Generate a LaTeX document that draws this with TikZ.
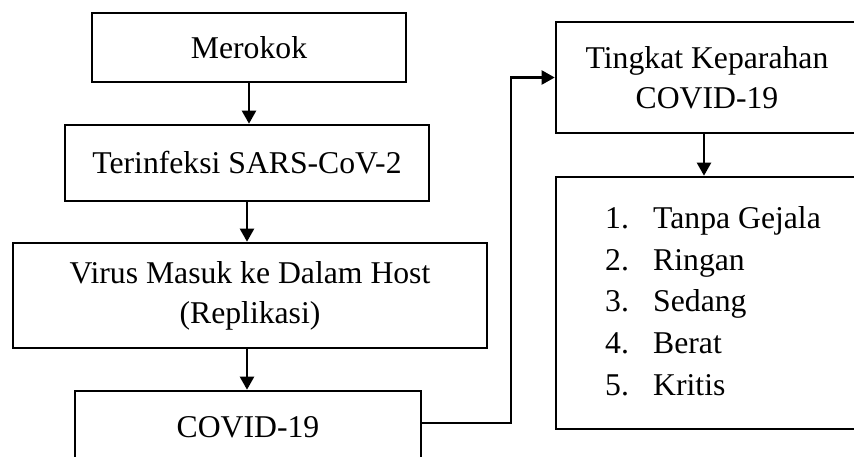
\documentclass[tikz,border=0pt]{standalone}
\usepackage{fontspec}
\setmainfont{Liberation Serif}
\usetikzlibrary{arrows.meta}
\begin{document}
\begin{tikzpicture}[x=1pt,y=-1pt,
  box/.style={draw,line width=2.6pt,inner sep=0pt,align=center,font=\fontsize{31.7}{40}\selectfont},
  arr/.style={line width=2.2pt,-{Triangle[length=13pt,width=14pt]}}]
\useasboundingbox (0,0) rectangle (854,457);
\clip (0,0) rectangle (854,457);
\node[box,minimum width=314,minimum height=69] (m) at (249,47.5) {Merokok};
\node[box,minimum width=364,minimum height=76] (t) at (247,163) {Terinfeksi SARS-CoV-2};
\node[box,minimum width=474,minimum height=105] (v) at (250,295.5) {Virus Masuk ke Dalam Host\\(Replikasi)};
\node[box,minimum width=346,minimum height=72] (c) at (248,427) {COVID-19};
\node[box,minimum width=302,minimum height=111] (k) at (707,77.5) {Tingkat Keparahan\\COVID-19};
\node[box,minimum width=302,minimum height=252] (g) at (707,303) {};
\node[anchor=west,inner sep=0pt,align=left,font=\fontsize{31.7}{41.75}\selectfont] (gl) at (605,301)
  {\makebox[48pt][l]{1.}Tanpa Gejala\\
   \makebox[48pt][l]{2.}Ringan\\
   \makebox[48pt][l]{3.}Sedang\\
   \makebox[48pt][l]{4.}Berat\\
   \makebox[48pt][l]{5.}Kritis};
\coordinate (j) at (511,77.5);
\draw[arr] (m.south) -- (m.south |- t.north);
\draw[arr] (t.south) -- (t.south |- v.north);
\draw[arr] (v.south -| t.south) -- (t.south |- c.north);
\draw[arr] (k.south -| 704,0) -- (704,0 |- g.north);
\draw[arr] (c.east |- 0,423) -| (j) -- (k.west);
\end{tikzpicture}
\end{document}
